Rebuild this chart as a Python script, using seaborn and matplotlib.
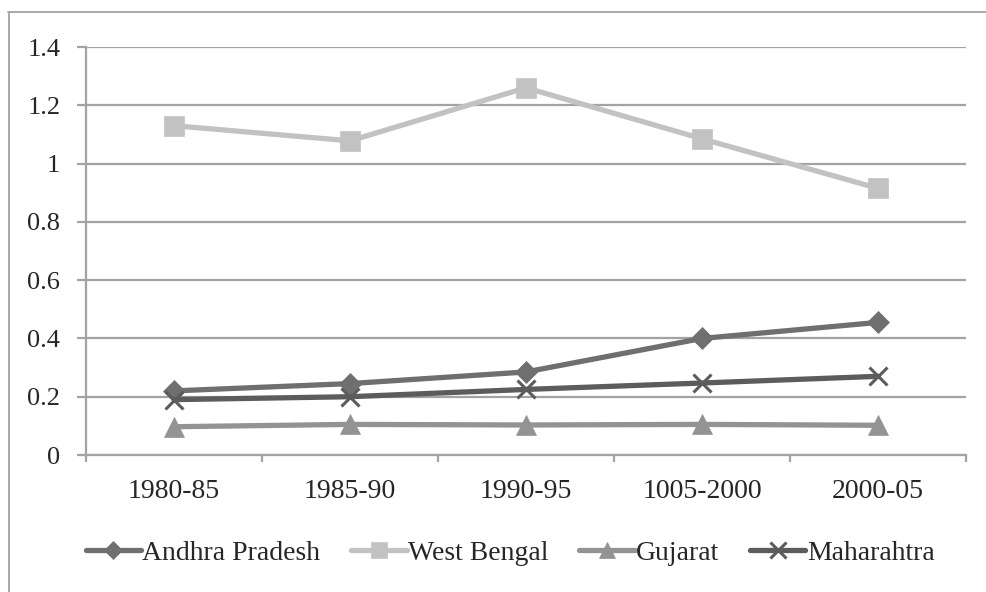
import matplotlib
matplotlib.use("Agg")
import matplotlib.pyplot as plt
from matplotlib.lines import Line2D
import seaborn as sns
import pandas as pd

periods = ["1980-85", "1985-90", "1990-95", "1005-2000", "2000-05"]
andhra_pradesh = [0.22, 0.245, 0.285, 0.40, 0.455]
west_bengal = [1.13, 1.078, 1.26, 1.085, 0.915]
gujarat = [0.097, 0.105, 0.103, 0.105, 0.102]
maharahtra = [0.19, 0.20, 0.225, 0.247, 0.27]

states = ["Andhra Pradesh", "West Bengal", "Gujarat", "Maharahtra"]
series = [andhra_pradesh, west_bengal, gujarat, maharahtra]
colors = ["#6f6f6f", "#c2c2c2", "#939393", "#5c5c5c"]
markers = ["D", "s", "^", "x"]
marker_sizes = [11, 14, 14, 13]

df = pd.DataFrame({
    "period": [p for _ in states for p in periods],
    "state": [s for s in states for _ in periods],
    "value": [v for vals in series for v in vals],
})

sns.set_theme(style="white")
plt.rcParams["font.family"] = ["Liberation Serif", "DejaVu Serif"]

fig = plt.figure(figsize=(9.86, 5.92), dpi=100)
ax = fig.add_axes([86 / 986, 1 - 455 / 592, 880 / 986, 408 / 592])

for state, c, mk, ms in zip(states, colors, markers, marker_sizes):
    sub = df[df["state"] == state]
    sns.lineplot(
        data=sub, x="period", y="value", color=c, marker=mk, markersize=ms,
        markerfacecolor=c, markeredgecolor=c,
        markeredgewidth=2.2 if mk == "x" else 0.5,
        linewidth=3.8, sort=False, legend=False, ax=ax,
    )

ax.set_xlim(-0.5, len(periods) - 0.5)
ax.set_ylim(0, 1.4)
ax.set_yticks([0, 0.2, 0.4, 0.6, 0.8, 1.0, 1.2, 1.4])
ax.set_yticklabels(["0", "0.2", "0.4", "0.6", "0.8", "1", "1.2", "1.4"])
ax.set_xticks(range(len(periods)))
ax.set_xticklabels(periods)
ax.set_xticks([i - 0.5 for i in range(len(periods) + 1)], minor=True)
ax.set_xlabel("")
ax.set_ylabel("")

grid_c = "#a3a3a3"
ax.yaxis.grid(True, color=grid_c, linewidth=1.6)
ax.xaxis.grid(False)
ax.set_axisbelow(True)
for side in ["top", "right"]:
    ax.spines[side].set_visible(False)
for side in ["left", "bottom"]:
    ax.spines[side].set_color(grid_c)
    ax.spines[side].set_linewidth(1.6)

ax.tick_params(axis="y", which="major", left=True, length=6.5, width=1.6,
               color=grid_c, pad=12, labelsize=19, labelcolor="#262626")
ax.tick_params(axis="x", which="major", bottom=False, length=0, pad=17,
               labelsize=20, labelcolor="#262626")
ax.tick_params(axis="x", which="minor", bottom=True, length=5, width=1.6,
               color=grid_c)

handles = [
    Line2D([], [], color=c, marker=m, markersize=ms * 0.85, linewidth=3.8,
           markerfacecolor=c, markeredgecolor=c,
           markeredgewidth=2.2 if m == "x" else 0.5)
    for c, m, ms in zip(colors, markers, marker_sizes)
]
fig.legend(handles, states, loc="center",
           bbox_to_anchor=(510 / 986, 1 - 553 / 592),
           ncol=4, frameon=False, fontsize=20, handlelength=2.0,
           handletextpad=0.05, columnspacing=1.1, labelcolor="#262626")

# chart border (top and left edges)
fig.add_artist(Line2D([8 / 986, 1], [1 - 12 / 592] * 2, color="#a8a8a8",
                      linewidth=1.4, transform=fig.transFigure))
fig.add_artist(Line2D([9 / 986] * 2, [0, 1 - 12 / 592], color="#a8a8a8",
                      linewidth=1.4, transform=fig.transFigure))

fig.savefig("out.png", dpi=100)
